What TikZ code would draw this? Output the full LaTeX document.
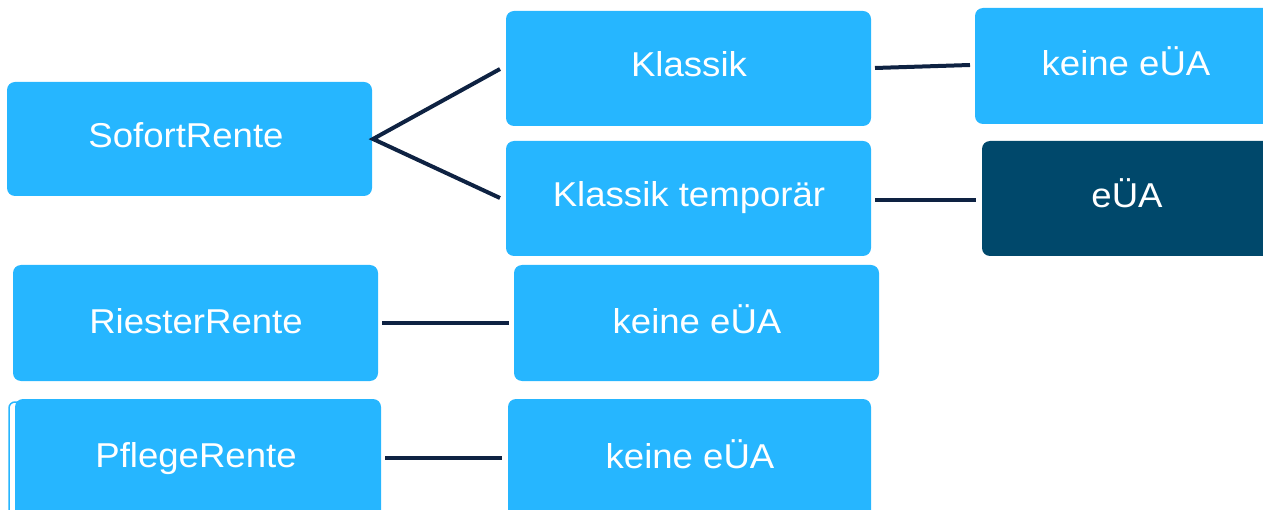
\documentclass[tikz,border=0pt]{standalone}
\usepackage{fontspec}
\setmainfont{Liberation Sans}[FakeStretch=1.06]
\definecolor{boxblue}{RGB}{38,182,255}
\definecolor{boxdark}{RGB}{0,72,107}
\definecolor{linenavy}{RGB}{14,34,66}
\begin{document}
\begin{tikzpicture}[x=1pt,y=-1pt,
  box/.style={draw=none,fill=boxblue,rounded corners=8pt},
  darkbox/.style={box,fill=boxdark},
  lbl/.style={text=white,font=\fontsize{34.5}{40}\selectfont,inner sep=0pt,anchor=base},
  conn/.style={draw=linenavy,line width=4pt}]
\useasboundingbox (0,0) rectangle (1263,510);
\begin{scope}
\clip (0,0) rectangle (1263,510);
% thin outline behind PflegeRente
\draw[boxblue,line width=1.5pt,rounded corners=6pt] (9,530) -- (9,402) -- (20,402);
\path[box] (7,82) rectangle (372,196);
\node[lbl] (sofort) at (186,148) {SofortRente};
\path[box] (506,11) rectangle (871,126);
\node[lbl] (klassik) at (689,77) {Klassik};
\path[box] (506,141) rectangle (871,256);
\node[lbl] (temp) at (689,207) {Klassik temporär};
\path[box] (975,8) rectangle (1280,124);
\node[lbl] (k1) at (1126,76) {keine eÜA};
\path[darkbox] (982,141) rectangle (1280,256);
\node[lbl] (eua) at (1127,208) {eÜA};
\path[box] (13,265) rectangle (378,381);
\node[lbl] (riester) at (196,334) {RiesterRente};
\path[box] (514,265) rectangle (879,381);
\node[lbl] (k2) at (697,334) {keine eÜA};
\path[box] (15,399) rectangle (381,530);
\node[lbl] (pflege) at (196,467) {PflegeRente};
\path[box] (508,399) rectangle (871,530);
\node[lbl] (k3) at (690,468) {keine eÜA};
% connectors
\coordinate (s0) at (373,139);
\coordinate (s1) at (500,69);
\coordinate (s2) at (500,198);
\draw[conn] (s1) -- (s0) -- (s2);
\coordinate (a0) at (875,68);
\coordinate (a1) at (970,65);
\draw[conn] (a0) -- (a1);
\coordinate (b0) at (875,200);
\coordinate (b1) at (976,200);
\draw[conn] (b0) -- (b1);
\coordinate (c0) at (382,323);
\coordinate (c1) at (509,323);
\draw[conn] (c0) -- (c1);
\coordinate (d0) at (385,458);
\coordinate (d1) at (502,458);
\draw[conn] (d0) -- (d1);
\end{scope}
\end{tikzpicture}
\end{document}
